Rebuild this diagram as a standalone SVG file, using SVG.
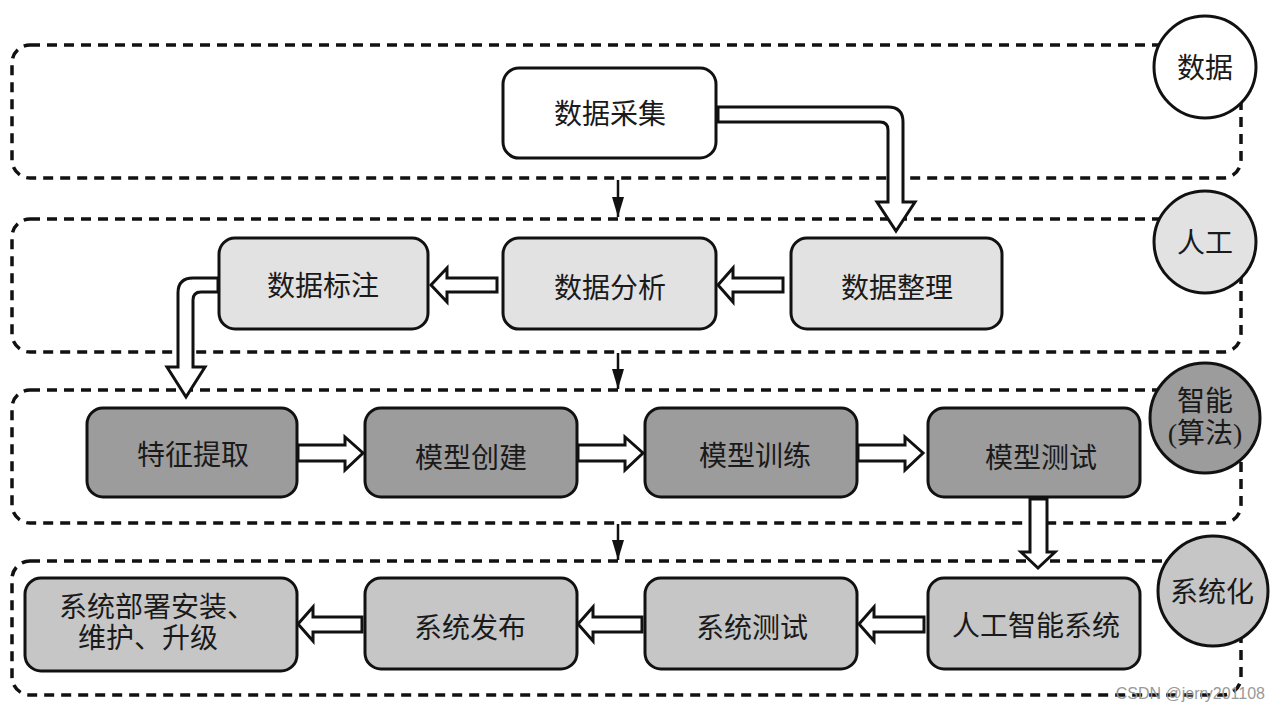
<svg xmlns="http://www.w3.org/2000/svg" width="1280" height="712" viewBox="0 0 1280 712">
<style>
.band{fill:none;stroke:#111;stroke-width:3.5;stroke-dasharray:10,7}
.box{stroke:#111;stroke-width:3}
.t{font-family:"Liberation Serif","Noto Sans CJK SC",serif;font-size:28px;fill:#1a1a1a;text-anchor:middle;dominant-baseline:central}
.ha{fill:#fff;stroke:#111;stroke-width:3;stroke-linejoin:miter}
.ln{stroke:#111;stroke-width:2.5;fill:none}
.w{fill:#fff}.g1{fill:#e2e2e2}.g2{fill:#9c9c9c}.g3{fill:#c6c6c6}
</style>
<defs>
<marker id="ah" markerWidth="20" markerHeight="12" refX="20" refY="6" orient="auto" markerUnits="userSpaceOnUse" viewBox="0 0 20 12">
<path d="M0,0 L20,6 L0,12 Z" fill="#111"/>
</marker>
</defs>
<rect width="1280" height="712" fill="#fff"/>
<g id="bands">
<rect class="band" x="12" y="45" width="1229" height="133" rx="18"/>
<rect class="band" x="12" y="219" width="1229" height="133" rx="18"/>
<rect class="band" x="12" y="390" width="1229" height="133" rx="18"/>
<rect class="band" x="12" y="561" width="1229" height="134" rx="18"/>
</g>
<g id="connectors">
<line class="ln" x1="618" y1="180" x2="618" y2="217" marker-end="url(#ah)"/>
<line class="ln" x1="618" y1="353" x2="618" y2="389" marker-end="url(#ah)"/>
<line class="ln" x1="618" y1="524" x2="618" y2="560" marker-end="url(#ah)"/>
<path class="ha" d="M718,107 L888,107 Q903,107 903,122 L903,202 L915,202 L896,231 L877,202 L888,202 L888,130 Q888,122 880,122 L718,122 Z"/>
<path class="ha" d="M218,278 L193,278 Q178,278 178,293 L178,367 L167,367 L186,397 L205,367 L193,367 L193,300 Q193,292 201,292 L218,292 Z"/>
<path class="ha" d="M783,278 L733,278 L733,268 L718,285 L733,302 L733,292 L783,292 Z"/>
<path class="ha" d="M497,278 L447,278 L447,268 L431,285 L447,302 L447,292 L497,292 Z"/>
<path class="ha" d="M298,445 L345,445 L345,437 L363,453 L345,470 L345,461 L298,461 Z"/>
<path class="ha" d="M578,445 L625,445 L625,437 L643,453 L625,470 L625,461 L578,461 Z"/>
<path class="ha" d="M858,445 L905,445 L905,437 L923,453 L905,470 L905,461 L858,461 Z"/>
<path class="ha" d="M1030,499 L1047,499 L1047,552 L1055,552 L1038,568 L1021,552 L1030,552 Z"/>
<path class="ha" d="M362,617 L313,617 L313,607 L298,624 L313,641 L313,632 L362,632 Z"/>
<path class="ha" d="M642,617 L593,617 L593,607 L578,624 L593,641 L593,632 L642,632 Z"/>
<path class="ha" d="M924,617 L874,617 L874,607 L859,624 L874,641 L874,632 L924,632 Z"/>
</g>
<g id="n-caiji"><rect class="box w" x="503" y="68" width="213" height="90" rx="16"/><text class="t" x="610" y="114">数据采集</text></g>
<g id="n-biaozhu"><rect class="box g1" x="219" y="238" width="209" height="91" rx="16"/><text class="t" x="323" y="286">数据标注</text></g>
<g id="n-fenxi"><rect class="box g1" x="503" y="238" width="213" height="91" rx="16"/><text class="t" x="610" y="288">数据分析</text></g>
<g id="n-zhengli"><rect class="box g1" x="791" y="238" width="211" height="91" rx="16"/><text class="t" x="897" y="288">数据整理</text></g>
<g id="n-tezheng"><rect class="box g2" x="87" y="408" width="210" height="89" rx="16"/><text class="t" x="193" y="455">特征提取</text></g>
<g id="n-chuangjian"><rect class="box g2" x="365" y="408" width="212" height="89" rx="16"/><text class="t" x="471" y="458">模型创建</text></g>
<g id="n-xunlian"><rect class="box g2" x="645" y="408" width="212" height="89" rx="16"/><text class="t" x="755" y="456">模型训练</text></g>
<g id="n-ceshi"><rect class="box g2" x="928" y="408" width="212" height="89" rx="16"/><text class="t" x="1041" y="458">模型测试</text></g>
<g id="n-bushu"><rect class="box g3" x="25" y="578" width="272" height="93" rx="16"/><text class="t" x="157" y="607">系统部署安装、</text><text class="t" x="148" y="638">维护、升级</text></g>
<g id="n-fabu"><rect class="box g3" x="365" y="578" width="212" height="91" rx="16"/><text class="t" x="470" y="628">系统发布</text></g>
<g id="n-xtceshi"><rect class="box g3" x="645" y="578" width="212" height="91" rx="16"/><text class="t" x="752" y="628">系统测试</text></g>
<g id="n-aisys"><rect class="box g3" x="928" y="578" width="212" height="91" rx="16"/><text class="t" x="1036" y="626">人工智能系统</text></g>
<g id="c-shuju"><circle class="box w" cx="1205" cy="67" r="51"/><text class="t" x="1205" y="68">数据</text></g>
<g id="c-rengong"><circle class="box g1" cx="1205" cy="242" r="51"/><text class="t" x="1205" y="243">人工</text></g>
<g id="c-zhineng"><circle class="box g2" cx="1205" cy="418" r="55"/><text class="t" x="1205" y="401">智能</text><text class="t" x="1205" y="433">(算法)</text></g>
<g id="c-xitong"><circle class="box g3" cx="1213" cy="591" r="55"/><text class="t" x="1212" y="592">系统化</text></g>
<text x="1265" y="693" style="font-family:'Liberation Sans',sans-serif;font-size:16px;fill:#999;text-anchor:end;dominant-baseline:central">CSDN @jerry201108</text>
</svg>
